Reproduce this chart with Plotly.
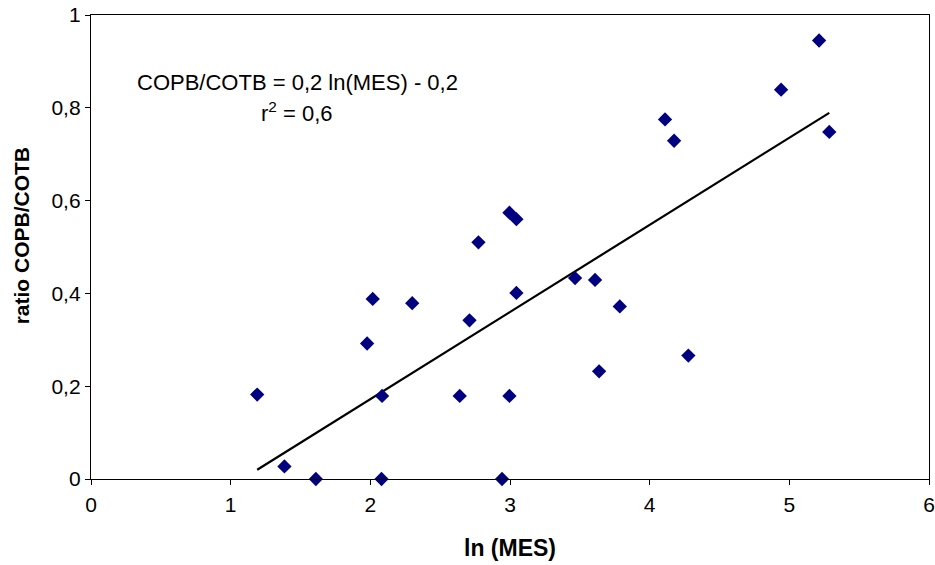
import plotly.graph_objects as go

ln_mes = [1.19, 1.385, 1.61, 1.977, 2.017, 2.084, 2.08, 2.30, 2.64, 2.71, 2.774, 2.943,
          2.996, 2.996, 3.046, 3.046, 3.466, 3.609, 3.638, 3.786, 4.277, 4.110, 4.175,
          4.941, 5.213, 5.286]
ratio = [0.182, 0.027, 0.0, 0.292, 0.388, 0.179, 0.0, 0.379, 0.179, 0.342, 0.510, 0.0,
         0.179, 0.574, 0.560, 0.401, 0.433, 0.429, 0.232, 0.372, 0.266, 0.775, 0.729,
         0.839, 0.945, 0.748]

trend_slope = 0.1878
trend_intercept = -0.2035
trend_x = [min(ln_mes), max(ln_mes)]
trend_y = [trend_slope * v + trend_intercept for v in trend_x]

x_ticks = [0, 1, 2, 3, 4, 5, 6]
y_ticks = [0, 0.2, 0.4, 0.6, 0.8, 1]

font_family = "Liberation Sans, Arial, sans-serif"

fig = go.Figure()
fig.add_trace(go.Scatter(
    x=trend_x, y=trend_y, mode="lines",
    line=dict(color="black", width=2.2), hoverinfo="skip", showlegend=False))
fig.add_trace(go.Scatter(
    x=ln_mes, y=ratio, mode="markers",
    marker=dict(symbol="diamond", size=11, color="#000080",
                line=dict(width=0)),
    cliponaxis=False, showlegend=False))

fig.add_annotation(x=1.475, y=0.855, xref="x", yref="y", showarrow=False,
                   text="COPB/COTB = 0,2 ln(MES) - 0,2",
                   font=dict(family=font_family, size=22, color="black"))
fig.add_annotation(x=1.475, y=0.79, xref="x", yref="y", showarrow=False,
                   text="r<sup>2</sup> = 0,6",
                   font=dict(family=font_family, size=22, color="black"))

# axis titles
fig.add_annotation(x=0.5, y=-0.149, xref="paper", yref="paper", showarrow=False,
                   text="<b>ln (MES)</b>", xanchor="center", yanchor="middle",
                   font=dict(family=font_family, size=23, color="black"))
fig.add_annotation(x=-0.0835, y=0.523, xref="paper", yref="paper", showarrow=False,
                   text="<b>ratio COPB/COTB</b>", textangle=-90,
                   xanchor="center", yanchor="middle",
                   font=dict(family=font_family, size=21, color="black"))

axis_common = dict(showgrid=False, zeroline=False, showline=True, linecolor="black",
                   linewidth=1.3, mirror=True, ticks="outside", ticklen=5,
                   tickcolor="black", tickwidth=1, automargin=False,
                   tickfont=dict(family=font_family, size=21, color="black"))

fig.update_xaxes(range=[0, 6], tickvals=x_ticks, ticklabelstandoff=2, **axis_common)
fig.update_yaxes(range=[0, 1], tickvals=y_ticks, ticksuffix="\u00a0", **axis_common)

fig.update_layout(width=935, height=565, separators=", ",
                  margin=dict(l=91, r=6, t=15, b=86),
                  plot_bgcolor="white", paper_bgcolor="white",
                  font=dict(family=font_family))

fig.write_html("out.html")
